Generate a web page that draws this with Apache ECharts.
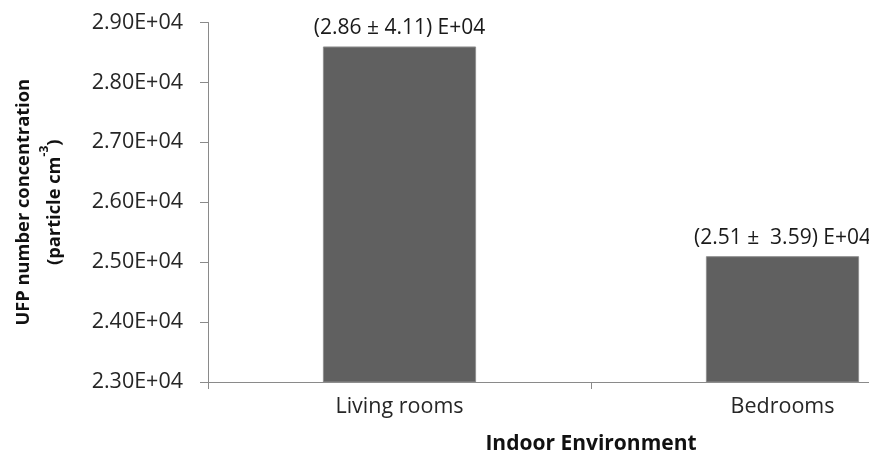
<!DOCTYPE html>
<html>
<head>
<meta charset="utf-8">
<script src="https://cdn.jsdelivr.net/npm/echarts@6/dist/echarts.min.js"></script>
<style>
  html, body { margin: 0; padding: 0; background: #fff; overflow: hidden; width: 869px; height: 460px; }
  /* the plot area continues past the right edge of the window */
  #chart { width: 974px; height: 460px; }
</style>
</head>
<body>
<div id="chart"></div>
<script>
// Mean UFP number concentration per indoor environment (particle cm^-3)
const categories = ['Living rooms', 'Bedrooms'];
const meanValues = [28600, 25100];
// Standard deviation shown in each label (in units of E+04)
const sdTexts = ['4.11', ' 3.59'];
// Value axis range and step
const yMin = 23000;
const yMax = 29000;
const yStep = 1000;

const FONT = '"Open Sans", "Noto Sans", sans-serif';
const TEXT = '#262626';
const AXIS = '#8a8a8a';

const chart = echarts.init(document.getElementById('chart'), null, { renderer: 'canvas' });

chart.setOption({
  animation: false,
  backgroundColor: '#ffffff',
  grid: { left: 208, top: 22.5, width: 766, height: 363, containLabel: false },
  xAxis: {
    type: 'category',
    data: categories,
    name: 'Indoor Environment',
    nameLocation: 'middle',
    nameGap: 52,
    nameTextStyle: { fontFamily: FONT, fontSize: 21, fontWeight: 'bold', color: '#111', verticalAlign: 'top' },
    axisLine: { lineStyle: { color: AXIS, width: 1 } },
    axisTick: { show: true, length: 7, lineStyle: { color: AXIS } },
    axisLabel: { margin: 14, fontFamily: FONT, fontSize: 21.5, color: TEXT }
  },
  yAxis: {
    type: 'value',
    min: yMin,
    max: yMax,
    interval: yStep,
    name: '{t|UFP number concentration}\n{t|(particle cm}{s|-3}{t|)}',
    nameLocation: 'middle',
    nameGap: 138,
    nameTextStyle: {
      rich: {
        t: { fontFamily: FONT, fontSize: 18.3, fontWeight: 'bold', color: '#111', lineHeight: 31 },
        s: { fontFamily: FONT, fontSize: 12, fontWeight: 'bold', color: '#111', lineHeight: 31, verticalAlign: 'top' }
      }
    },
    axisLine: { show: true, lineStyle: { color: AXIS, width: 1 } },
    axisTick: { show: true, length: 8, lineStyle: { color: AXIS } },
    splitLine: { show: false },
    axisLabel: {
      margin: 25,
      fontFamily: FONT,
      fontSize: 21.5,
      color: TEXT,
      formatter: v => (v / 10000).toFixed(2) + 'E+04'
    }
  },
  series: [{
    type: 'bar',
    data: meanValues,
    barWidth: '40%',
    itemStyle: { color: '#606060', borderColor: '#8f8f8f', borderWidth: 1 },
    label: {
      show: true,
      position: 'top',
      distance: 8,
      fontFamily: FONT,
      fontSize: 21,
      color: '#1a1a1a',
      formatter: p => '(' + (p.value / 10000).toFixed(2) + ' \u00b1 ' + sdTexts[p.dataIndex] + ') E+04'
    }
  }]
});
</script>
</body>
</html>
